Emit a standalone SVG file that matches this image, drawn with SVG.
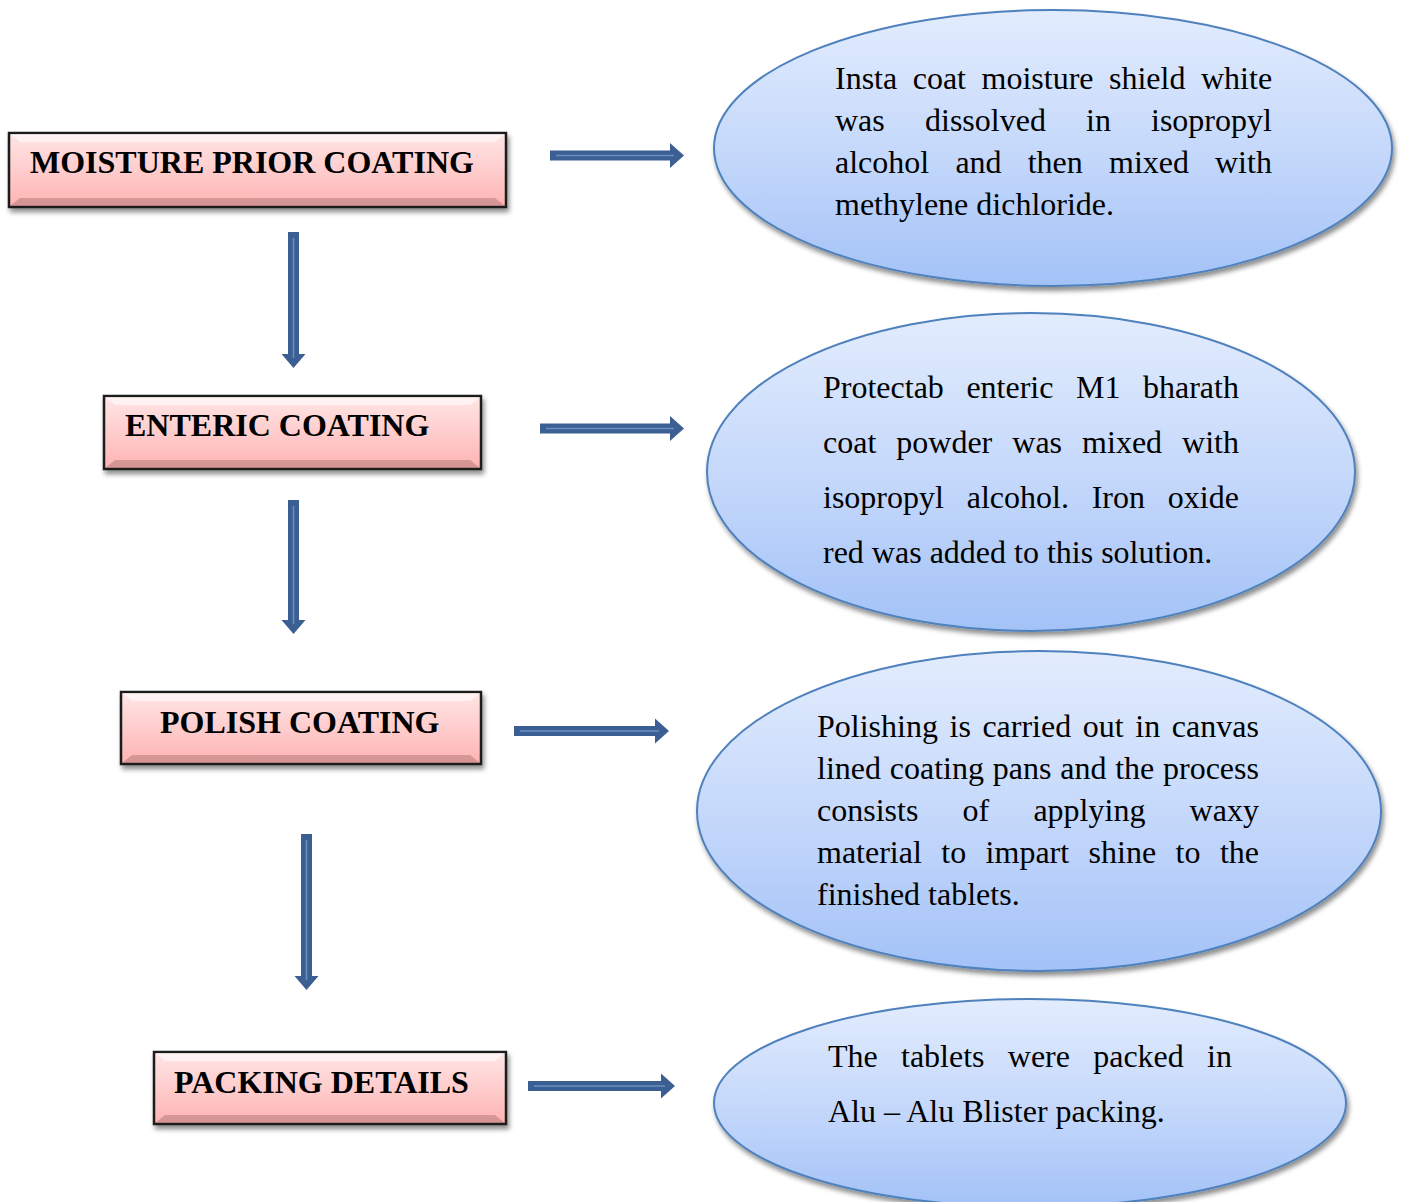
<svg xmlns="http://www.w3.org/2000/svg" width="1401" height="1202" viewBox="0 0 1401 1202">
<defs>
<linearGradient id="pink" x1="0" y1="0" x2="0" y2="1">
<stop offset="0" stop-color="#ffe6e6"/>
<stop offset="1" stop-color="#ffb3b3"/>
</linearGradient>
<linearGradient id="blue" x1="0" y1="0" x2="0" y2="1">
<stop offset="0" stop-color="#e2ecfd"/>
<stop offset="0.5" stop-color="#c6d9fb"/>
<stop offset="1" stop-color="#a3c2f7"/>
</linearGradient>
<filter id="shadow" x="-10%" y="-10%" width="120%" height="130%">
<feGaussianBlur in="SourceAlpha" stdDeviation="2.5"/>
<feOffset dx="2" dy="4" result="b"/>
<feComponentTransfer><feFuncA type="linear" slope="0.45"/></feComponentTransfer>
<feMerge><feMergeNode/><feMergeNode in="SourceGraphic"/></feMerge>
</filter>
<style>
.box{fill:url(#pink);stroke:#1a1a1a;stroke-width:2.5}
.bevel-top{fill:#fff;opacity:0.55}
.bevel-bot{fill:#8a5a5a;opacity:0.35}
.ell{fill:url(#blue);stroke:#4f81bd;stroke-width:2}
.title{font-family:"Liberation Serif","Times New Roman",serif;font-weight:bold;font-size:32px;fill:#000}
.body{font-family:"Liberation Serif","Times New Roman",serif;font-size:32px;fill:#000}
.arr{fill:#3b5f92}
.hl{stroke:#6d8fc0;stroke-width:1.5}
</style>
</defs>

<g id="node-moisture">
<rect class="box" x="9" y="133" width="497" height="74" filter="url(#shadow)"/>
<polygon class="bevel-top" points="10,134 505,134 495,142 20,142"/>
<polygon class="bevel-bot" points="10,206 505,206 495,198 20,198"/>
<text class="title" x="30" y="173">MOISTURE PRIOR COATING</text>
</g>

<g id="node-enteric">
<rect class="box" x="104" y="396" width="377" height="73" filter="url(#shadow)"/>
<polygon class="bevel-top" points="105,397 480,397 470,405 115,405"/>
<polygon class="bevel-bot" points="105,468 480,468 470,460 115,460"/>
<text class="title" x="125" y="436">ENTERIC COATING</text>
</g>

<g id="node-polish">
<rect class="box" x="121" y="692" width="360" height="72" filter="url(#shadow)"/>
<polygon class="bevel-top" points="122,693 480,693 470,701 132,701"/>
<polygon class="bevel-bot" points="122,763 480,763 470,755 132,755"/>
<text class="title" x="160" y="733">POLISH COATING</text>
</g>

<g id="node-packing">
<rect class="box" x="154" y="1052" width="352" height="72" filter="url(#shadow)"/>
<polygon class="bevel-top" points="155,1053 505,1053 495,1061 165,1061"/>
<polygon class="bevel-bot" points="155,1123 505,1123 495,1115 165,1115"/>
<text class="title" x="174" y="1093">PACKING DETAILS</text>
</g>

<g id="node-desc1">
<ellipse class="ell" cx="1053" cy="148" rx="339" ry="138" filter="url(#shadow)"/>
<text class="body" y="89"><tspan x="835">Insta</tspan><tspan x="912.7">coat</tspan><tspan x="981.5">moisture</tspan><tspan x="1109">shield</tspan><tspan x="1201">white</tspan></text>
<text class="body" y="131"><tspan x="835">was</tspan><tspan x="925">dissolved</tspan><tspan x="1086">in</tspan><tspan x="1151">isopropyl</tspan></text>
<text class="body" y="173"><tspan x="835">alcohol</tspan><tspan x="955.4">and</tspan><tspan x="1027.7">then</tspan><tspan x="1109">mixed</tspan><tspan x="1215">with</tspan></text>
<text class="body" x="835" y="215">methylene dichloride.</text>
</g>

<g id="node-desc2">
<ellipse class="ell" cx="1031" cy="472" rx="324" ry="159" filter="url(#shadow)"/>
<text class="body" y="398"><tspan x="823">Protectab</tspan><tspan x="966.4">enteric</tspan><tspan x="1076">M1</tspan><tspan x="1143">bharath</tspan></text>
<text class="body" y="453"><tspan x="823">coat</tspan><tspan x="896.3">powder</tspan><tspan x="1012.3">was</tspan><tspan x="1082.1">mixed</tspan><tspan x="1182.1">with</tspan></text>
<text class="body" y="508"><tspan x="823">isopropyl</tspan><tspan x="966.7">alcohol.</tspan><tspan x="1091.7">Iron</tspan><tspan x="1167.8">oxide</tspan></text>
<text class="body" x="823" y="563">red was added to this solution.</text>
</g>

<g id="node-desc3">
<ellipse class="ell" cx="1039" cy="811" rx="342" ry="160" filter="url(#shadow)"/>
<text class="body" y="737"><tspan x="817">Polishing</tspan><tspan x="949.5">is</tspan><tspan x="982.4">carried</tspan><tspan x="1082.8">out</tspan><tspan x="1135.3">in</tspan><tspan x="1171.8">canvas</tspan></text>
<text class="body" y="779"><tspan x="817">lined</tspan><tspan x="889.8">coating</tspan><tspan x="992.7">pans</tspan><tspan x="1060.2">and</tspan><tspan x="1115.2">the</tspan><tspan x="1163">process</tspan></text>
<text class="body" y="821"><tspan x="817">consists</tspan><tspan x="962.5">of</tspan><tspan x="1033.4">applying</tspan><tspan x="1189.6">waxy</tspan></text>
<text class="body" y="863"><tspan x="817">material</tspan><tspan x="941.3">to</tspan><tspan x="985.6">impart</tspan><tspan x="1088.6">shine</tspan><tspan x="1175.6">to</tspan><tspan x="1219.9">the</tspan></text>
<text class="body" x="817" y="905">finished tablets.</text>
</g>

<g id="node-desc4">
<ellipse class="ell" cx="1030" cy="1103" rx="316" ry="104" filter="url(#shadow)"/>
<text class="body" y="1067"><tspan x="828">The</tspan><tspan x="901">tablets</tspan><tspan x="1007.8">were</tspan><tspan x="1093.2">packed</tspan><tspan x="1207">in</tspan></text>
<text class="body" x="828" y="1122">Alu – Alu Blister packing.</text>
</g>

<g id="connectors">
<polygon class="arr" points="550,150.5 670,150.5 670,143 684,155.5 670,168 670,160.5 550,160.5"/>
<line class="hl" x1="556" y1="155.5" x2="674" y2="155.5"/>
<polygon class="arr" points="540,423.5 670,423.5 670,416 684,428.5 670,441 670,433.5 540,433.5"/>
<line class="hl" x1="546" y1="428.5" x2="674" y2="428.5"/>
<polygon class="arr" points="514,726 655,726 655,718.5 669,731 655,743.5 655,736 514,736"/>
<line class="hl" x1="520" y1="731" x2="659" y2="731"/>
<polygon class="arr" points="528,1081 661,1081 661,1073.5 675,1086 661,1098.5 661,1091 528,1091"/>
<line class="hl" x1="534" y1="1086" x2="665" y2="1086"/>
<polygon class="arr" points="288,232 299,232 299,354 305.5,354 293.5,368 281.5,354 288,354"/>
<line class="hl" x1="293.5" y1="238" x2="293.5" y2="358"/>
<polygon class="arr" points="288,500 299,500 299,620 305.5,620 293.5,634 281.5,620 288,620"/>
<line class="hl" x1="293.5" y1="506" x2="293.5" y2="624"/>
<polygon class="arr" points="301,834 312,834 312,976 318.5,976 306.5,990 294.5,976 301,976"/>
<line class="hl" x1="306.5" y1="840" x2="306.5" y2="980"/>
</g>
</svg>
